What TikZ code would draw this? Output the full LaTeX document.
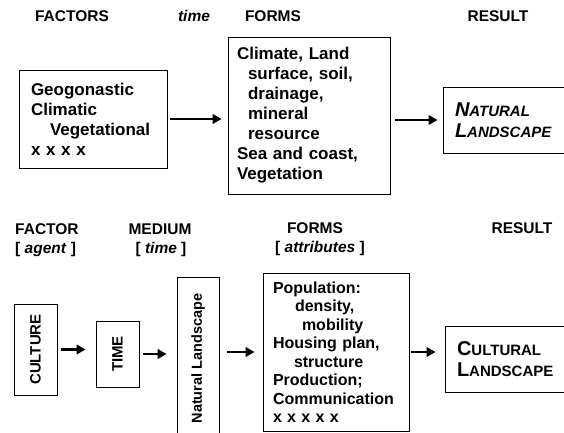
\documentclass[tikz,border=0pt]{standalone}
\usepackage{fontspec}
\setmainfont{Liberation Sans}
\usepackage{graphicx}
\usetikzlibrary{arrows.meta, positioning}
\tikzset{
    head/.style={font=\bfseries\fontsize{15.5}{18}\selectfont, inner sep=0pt},
    headit/.style={head, font=\bfseries\itshape\fontsize{15.5}{18}\selectfont},
    block/.style={rectangle, draw, line width=0.9pt, align=left, font=\bfseries\fontsize{17}{20}\selectfont},
    vblock/.style={rectangle, draw, line width=0.9pt, font=\bfseries\fontsize{15}{18}\selectfont},
    arrow/.style={line width=2.4pt, -{Triangle[length=9pt, width=9.5pt]}}
}
\newcommand{\fakesc}[2]{{\fontsize{20}{21}\selectfont #1}{\fontsize{15}{21}\selectfont #2}}

\begin{document}
\begin{tikzpicture}[x=1pt, y=-1pt]
        \clip (0,0) rectangle (564,433);

        % Natural landscape
        \node (factlbl) [head] at (72,16) {FACTORS};
        \node (timelbl) [headit] at (194,16) {time};
        \node (formlbl) [head] at (273,16) {FORMS};
        \node (reslbl) [head] at (498,16) {RESULT};

        \node (factbox) [block, minimum width=148, minimum height=98, text width=124] at (93,119) {Geogonastic\\Climatic\\\hspace*{19pt}Vegetational\\x x x x};
        \node (formbox) [block, minimum width=162, minimum height=157, text width=144] at (309,115.5) {Climate, Land\\\hspace*{11pt}surface, soil,\\\hspace*{11pt}drainage,\\\hspace*{11pt}mineral\\\hspace*{11pt}resource\\Sea and coast,\\Vegetation};
        \node (natbox) [block, font=\bfseries\itshape\fontsize{15}{21}\selectfont, minimum width=132, minimum height=66, text width=108] at (509,120) {\fakesc{N}{ATURAL}\\\fakesc{L}{ANDSCAPE}};

        \draw[arrow, shorten <=3pt, shorten >=6pt] (factbox.east) -- (factbox.east -| formbox.west);
        \draw[arrow, shorten <=5pt, shorten >=5pt] (natbox.west -| formbox.east) -- (natbox.west);

        % Cultural landscape
        \node (factorlbl) [head, anchor=west] at (15,229) {FACTOR};
        \node (agentlbl) [head, anchor=west] at (15,249) {[ \textit{agent} ]};
        \node (medlbl) [head] at (160,229) {MEDIUM};
        \node (medtimelbl) [head] at (161,249) {[ \textit{time} ]};
        \node (attlbl) [head] at (315,228) {FORMS};
        \node (attsublbl) [head] at (320,248) {[ \textit{attributes} ]};
        \node (culreslbl) [head] at (522,228) {RESULT};

        \node (cultbox) [vblock, minimum width=43, minimum height=91] at (35.5,349.5) {\rotatebox{90}{CULTURE}};
        \node (timebox) [vblock, minimum width=43, minimum height=66] at (117.5,354) {\rotatebox{90}{TIME}};
        \node (nlbox) [vblock, font=\bfseries\fontsize{14.5}{17}\selectfont, minimum width=42, minimum height=163] at (198,358.5) {\rotatebox{90}{Natural Landscape}};
        \node (attbox) [block, font=\bfseries\fontsize{16}{18.5}\selectfont, minimum width=146, minimum height=158, text width=126] at (336,352) {Population:\\\hspace*{22pt}density,\\\hspace*{29pt}mobility\\Housing plan,\\\hspace*{21pt}structure\\Production;\\Communication\\x x x x x};
        \node (culbox) [block, font=\bfseries\fontsize{15}{21}\selectfont, minimum width=130, minimum height=66, text width=106] at (510,359) {\fakesc{C}{ULTURAL}\\\fakesc{L}{ANDSCAPE}};

        \draw[arrow, shorten <=4pt, shorten >=10pt] (cultbox.east) -- (cultbox.east -| timebox.west);
        \draw[arrow, shorten <=4pt, shorten >=10pt] (timebox.east) -- (timebox.east -| nlbox.west);
        \draw[arrow, shorten <=8pt, shorten >=8pt] (nlbox.east |- attbox.west) -- (attbox.west);
        \draw[arrow, shorten <=2pt, shorten >=9pt] (attbox.east) -- (attbox.east -| culbox.west);

    \end{tikzpicture}
\end{document}
